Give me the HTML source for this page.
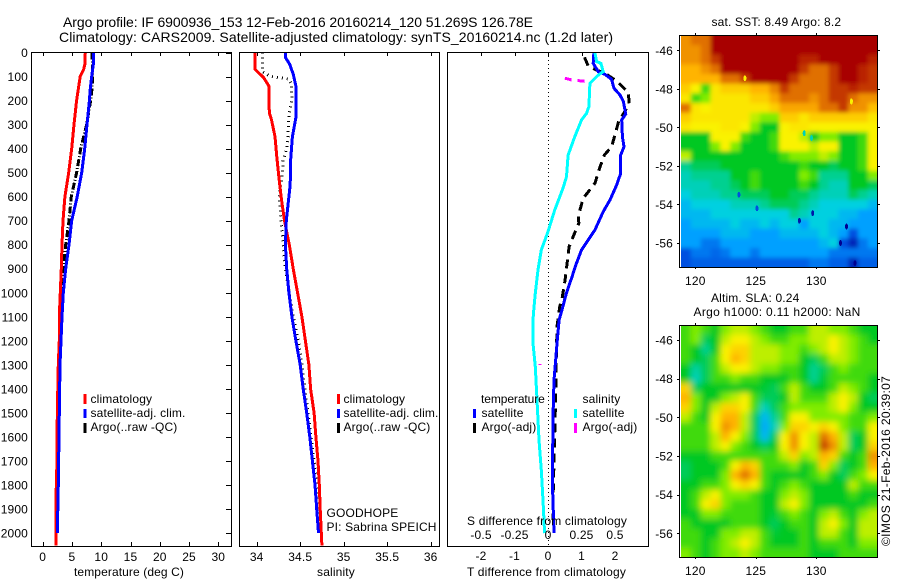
<!DOCTYPE html>
<html>
<head>
<meta charset="utf-8">
<title>Argo profile</title>
<style>
html,body{margin:0;padding:0;background:#fff;width:900px;height:580px;overflow:hidden}
svg{display:block}
text{font-family:"Liberation Sans",sans-serif;font-size:12px;fill:#000;letter-spacing:.15px}
.t{font-size:14px;letter-spacing:0}
.m{text-anchor:middle}
.e{text-anchor:end}
</style>
</head>
<body>
<svg id="fig" width="900" height="580" viewBox="0 0 900 580" xmlns="http://www.w3.org/2000/svg">
<defs>
<filter id="soft1" x="-5%" y="-5%" width="110%" height="110%"><feGaussianBlur stdDeviation="2"/></filter>
<filter id="soft2" x="-5%" y="-5%" width="110%" height="110%"><feGaussianBlur stdDeviation="3.2"/></filter>
<clipPath id="clipSst"><rect x="681" y="35" width="197" height="232"/></clipPath>
<clipPath id="clipSla"><rect x="681" y="325" width="197" height="232"/></clipPath>
</defs>
<rect width="900" height="580" fill="#fff"/>
<text class="t" x="63" y="27" textLength="470">Argo profile: IF 6900936_153 12-Feb-2016 20160214_120 51.269S 126.78E</text>
<text class="t" x="59" y="42" textLength="554">Climatology: CARS2009. Satellite-adjusted climatology: synTS_20160214.nc (1.2d later)</text>
<g id="layer"></g>

<g>
<rect x="83.5" y="394" width="3" height="10" fill="#f00"/>
<text x="90.5" y="403">climatology</text>
<rect x="83.5" y="409" width="3" height="9" fill="#00f"/>
<text x="90.5" y="417">satellite-adj. clim.</text>
<rect x="83.5" y="423" width="3" height="10" fill="#000"/>
<text x="90.5" y="431">Argo(..raw -QC)</text>
</g>
<g>
<rect x="337" y="394" width="3" height="10" fill="#f00"/>
<text x="343.5" y="403">climatology</text>
<rect x="337" y="409" width="3" height="9" fill="#00f"/>
<text x="343.5" y="417">satellite-adj. clim.</text>
<rect x="337" y="423" width="3" height="10" fill="#000"/>
<text x="343.5" y="431">Argo(..raw -QC)</text>
</g>
<text x="326.5" y="517">GOODHOPE</text>
<text x="326.5" y="531">PI: Sabrina SPEICH</text>
<g>
<text x="481" y="403" textLength="64">temperature</text>
<rect x="473" y="409" width="3" height="9" fill="#00f"/>
<text x="481.5" y="417">satellite</text>
<rect x="473" y="423" width="3" height="10" fill="#000"/>
<text x="481.5" y="431">Argo(-adj)</text>
<text x="582.5" y="403">salinity</text>
<rect x="574" y="409" width="3" height="9" fill="#0ff"/>
<text x="582.5" y="417">satellite</text>
<rect x="574" y="423" width="3" height="10" fill="#f0f"/>
<text x="582.5" y="431">Argo(-adj)</text>
</g>
<text x="74" y="576" textLength="110">temperature (deg C)</text>
<text class="m" x="336" y="576">salinity</text>
<text x="467" y="576" textLength="159">T difference from climatology</text>
<text x="467" y="525" textLength="160">S difference from climatology</text>
<text x="711.5" y="26">sat. SST: 8.49 Argo: 8.2</text>
<text x="711" y="302">Altim. SLA: 0.24</text>
<text x="693.5" y="316" textLength="167">Argo h1000: 0.11 h2000: NaN</text>
<text transform="translate(890,546) rotate(-90)" textLength="170">©IMOS 21-Feb-2016 20:39:07</text>
</svg>
<script>
// ---- profile data (depth in dbar, values in data units) ----
const depthTicks = [0,100,200,300,400,500,600,700,800,900,1000,1100,1200,1300,1400,1500,1600,1700,1800,1900,2000];
const tempTicks = [0,5,10,15,20,25,30];
const salTicks = [34,34.5,35,35.5,36];
const salTickLabels = ['34','34.5','35','35.5','36'];
const tDiffTicks = [-2,-1,0,1,2];
const sDiffTicks = [-0.5,-0.25,0,0.25,0.5];
const sDiffTickLabels = ['-0.5','-0.25','0','0.25','0.5'];

const climTempDepth = [0,50,70,100,200,300,400,500,600,700,800,900,1000,1100,1200,1300,1500,1700,1850,2053];
const climTemp = [7.28,7.2,7.0,6.4,5.8,5.35,4.95,4.45,3.8,3.47,3.3,3.18,3.0,2.84,2.84,2.67,2.5,2.45,2.27,2.27];
const satTempDepth = [0,50,100,150,200,300,400,500,600,700,800,900,1000,1100,1200,1300,1500,1800,2000];
const satTemp = [8.7,8.65,8.37,8.13,7.97,7.57,7.17,6.66,5.9,4.95,4.5,3.93,3.52,3.3,3.13,2.96,2.84,2.67,2.5];
const argoTempDepth = [0,100,150,200,300,400,500,600,700,800,900,1000,1200,1300,1800];
const argoTemp = [8.42,8.54,8.42,8.2,7.5,6.49,5.8,4.89,4.5,3.93,3.52,3.24,2.84,2.96,2.39];

const climSalDepth = [0,70,105,140,250,280,350,430,500,600,700,800,900,1000,1100,1200,1300,1400,1500,1600,1700,1800,1900,2053];
const climSal = [33.98,33.98,34.08,34.14,34.145,34.17,34.21,34.23,34.25,34.28,34.32,34.375,34.42,34.47,34.52,34.56,34.6,34.62,34.66,34.68,34.705,34.72,34.73,34.75];
const satSalDepth = [0,20,50,90,140,270,350,450,550,600,700,800,900,1000,1100,1200,1300,1400,1500,1600,1700,1800,1900,2000];
const satSal = [34.33,34.33,34.38,34.42,34.45,34.45,34.41,34.39,34.385,34.37,34.34,34.33,34.345,34.37,34.405,34.45,34.5,34.535,34.575,34.61,34.64,34.67,34.69,34.71];
const argoSalDepth = [0,80,100,110,130,200,260,350,400,450,500,600,700,800,900,1000,1100,1200,1300,1500,1700,1900,2000];
const argoSal = [34.065,34.065,34.16,34.36,34.4,34.405,34.37,34.36,34.345,34.305,34.295,34.26,34.28,34.305,34.33,34.375,34.42,34.48,34.52,34.59,34.66,34.72,34.73];

const satTDiffDepth = [0,45,80,91,112,149,177,204,256,281,350,392,427,503,551,614,662,739,822,877,940,1002,1065,1113,1211,1294,1363,1516,1793,2001];
const satTDiff = [1.37,1.35,1.5,1.7,1.9,1.97,2.15,2.25,2.32,2.2,2.22,2.27,2.17,2.17,2.05,1.85,1.65,1.4,1.0,0.85,0.7,0.55,0.43,0.33,0.27,0.22,0.18,0.15,0.13,0.18];
const argoTDiffDepth = [20,56,73,87,119,166,212,256,281,343,392,427,478,545,607,677,711,760,808,877,947,1016,1058,1141,1266,1474,1863,1946];
const argoTDiff = [1.09,1.2,1.45,1.7,2.05,2.4,2.42,2.25,2.12,2.0,1.9,1.68,1.55,1.4,1.05,0.91,0.92,0.77,0.63,0.57,0.51,0.43,0.35,0.27,0.25,0.22,0.15,0.15];
const satSDiffDepth = [0,38,45,80,94,128,225,253,281,350,427,517,565,656,746,822,905,1002,1065,1113,1211,1308,1446,1613,1738,1863,2001];
const satSDiff = [0.35,0.363,0.395,0.412,0.375,0.313,0.305,0.288,0.25,0.2,0.15,0.138,0.112,0.05,0,-0.05,-0.075,-0.095,-0.105,-0.112,-0.112,-0.095,-0.082,-0.067,-0.05,-0.037,-0.025];
const argoSDiffDepth = [107,114,117,121];
const argoSDiff = [0.125,0.175,0.225,0.295];
const argoSDiffDepth2 = [1298,1298];
const argoSDiff2 = [-0.07,-0.05];

// ---- map data (colour level per grid cell, north to south) ----
const sstMap = [
[8.5,9,9,10,10,10,10,10,10,10,10,10,10,10,10,10,10,10,10,10],
[8.5,8.5,9,10,10,10,10,10,10,10,10,10,10,10,10,10,10,10,10,10],
[8.5,8.5,9,9.5,10,10,10,10,10,10,10,10,9.7,9.7,10,10,10,10,10,9.7],
[8,8,8.5,9,10,10,10,10,10,10,10,10,9.5,9,9,9.5,10,10,9.7,9.5],
[8,8,8,8,9,9,9.5,10,10,10,10,9.5,9,9,9,9.5,10,10,9.7,9.5],
[7.6,7,5.5,7.2,7.6,7.6,7.6,8,8,8.7,9.5,9,9,9,9,9.5,9.5,9.7,9.5,9.5],
[7.2,5.5,6,7.2,7.2,7.2,7.2,7.6,7.6,8.2,9,9,9,8.5,9,9.5,9.5,9,8.5,8.5],
[9,7.2,7,7.2,7.2,7.2,7.2,7.2,7.2,7.6,8.2,8.2,8.2,8.2,9,9,9.5,8.5,8.5,7.8],
[7.6,7.2,7.2,7.2,7.2,7.2,7.2,6.5,6,6,7.6,7.6,7.2,7.6,7.6,7.6,7.6,7.6,7.6,7.2],
[7.2,7,7,7,7.2,7.2,7,6,5,5,7,7.2,7.2,7,7,7,7,7,7,7],
[5,5,5,7,7,7,5.5,5,5,5.5,7,7,6.5,5,6,6,5,5,5.5,7],
[5,5,5,6,7,6,5,5,5,5.5,7,7,7,6.5,7,7,5,5,5.5,7],
[6.5,5,5,5,5,5,5,5,5,5,5.5,6,6,6,6.5,6,5,5,5.5,7],
[4,4.5,4.5,4.5,5,5,5,5,5,5,5,5,5.5,5,5,4.5,5,5,5.5,7],
[3.5,4,4,4,4,5,5,5.5,5,5,5,5,6,5.5,4,4,4,5,5,6],
[3.5,3.5,3.5,4,4,4.5,5,5.5,5,5,5,5,5.5,5,4,3.5,3.5,5,5,4.5],
[3,3.5,3.5,3.5,4,4,4.5,4.5,4.5,5,5,4.5,4.5,4,3.5,3.5,3.5,4.5,4,3.5],
[2.5,3,3,3,3,3.5,3.5,3.5,4,4.5,4.5,4.5,4,3.5,3,3,3,3,3,2.5],
[2.5,2.5,2.5,3,3,3,3,3,3,3,3,4,3.5,3,3,3,2.5,2.5,2,2],
[2,2.5,2.5,2.5,2.5,3,2.5,2.5,3,2.5,3,3,2,3,3,2.5,2.5,2,2,2],
[2,2,2,2,2.5,2.5,2.5,2,2,2,2.5,2.5,2.5,2.5,3,2.5,2,1,2,2],
[2,2,1.5,1.5,2,2,2,2,2,2,2,2,2,2,2.5,3,1,0.5,1.5,2],
[1,1.5,1.5,1.3,1.5,2,2,1.5,2,2,2,2,2,2,2,1.5,1.5,1.5,1.5,1.5],
[1,1.2,1.2,1.2,1.2,1.2,1.2,1.2,1.2,1.2,1.2,1.2,1.2,1.5,1.5,1.2,1.2,0.5,1.2,1.2]
];
const sstSpotLon = [132,132.5,133.2,128.6,129.7,124.1,129,129.6,132.9,123.6,125.1];
const sstSpotLat = [-56,-55.15,-57.05,-54.85,-54.45,-47.45,-50.3,-50.55,-48.65,-53.5,-54.2];
const sstSpotLevel = [0,0,0,0.3,0.3,7,3.5,3.5,7,1,1];

const slaMap = [
[5.5,6,5.5,5,6,6.5,6.5,6,5.5,5,5,5.5,5.5,6.5,6.5,6,6,5.5,5,5],
[5.5,6,4.5,5,6.5,7,7,6.5,6,5.5,5.5,6,6,6.5,6.5,7,6.5,6,5.5,5],
[5.5,5,4,5,7,7.5,7.5,6.5,6.5,6.5,6,6,5.5,6,6.5,7,6.5,6,5.5,5.5],
[5.5,5,4.5,5.5,7,8,7.5,6.5,6.5,6.5,6,6,5,4.5,5.5,6.5,6.5,6,5.5,5.5],
[5,3.8,4.5,5.5,6.5,7,7,6.5,6,6,5.5,5.5,5,4,4.5,5.5,6,5.5,5.5,5.5],
[5,3.5,4.5,5.5,5.5,6,5.5,5.5,5,5,5,5.5,5,4,4.8,5.5,5.5,5.5,5.5,5],
[7.5,4.5,5,5,5,5,5,5,4.8,4.5,5.5,6.5,5.5,5,5,5.5,6.5,6,5.5,5],
[8,6,5,5,6,6.5,7,5.5,4.5,4.5,5,6.5,5.5,5.5,5.5,6.5,7,6.5,5,4.5],
[7.5,6,5,6.5,7.5,7.5,7,5.5,3.5,4.5,5.5,6,6,6,6,6.5,7,6,5,5],
[6.5,5.5,5,7,8,8,6.5,4.5,2.5,4,5.5,7,7,6,6,6,6,5.5,5.5,6],
[5.5,5.5,5.5,7,8.5,8,6.5,4.5,2.2,3.5,6,7.5,7.5,7,7.5,7,6,5.5,5.5,7],
[5.5,5.5,5.5,6.5,8,7,6,4.5,2.5,4.5,7,8.5,7,6.5,9,8,6.5,4.5,5,7],
[5.5,5.5,5.5,6.5,7,6,5.5,5,4.5,5,7,8.5,7,6.5,9.5,8.5,6.5,4.5,5,7.5],
[5,5,5,5.5,5.5,5.5,5.5,5.5,5.5,5.5,6.5,7.5,6,6.5,8,7.5,5.5,5,5.5,8.5],
[4.5,5,5,5,5.5,7,8,7.5,5.5,5.5,5.5,6,5,5.5,7.5,6,4.5,5,5.5,8],
[4.5,5,5,5,6,8,9,8,5.5,5,5,5,5,5.5,6,5,4.5,5.5,6,7],
[5,5,5.5,5.5,6,7,7.5,7,5.5,5,5.5,6,5.5,5,5,5,5,6.5,5.5,5.5],
[5,5.5,6.5,7,6,6,6,5.5,5,5,6,6.5,6,5,5,5,5,5.5,5,5],
[5,5.5,7,7.5,6,5.5,5.5,5.5,5,5,6.5,7,6,5,5,5,5,5,5,5.5],
[5,5,6,6,5.5,5.5,5.5,5.5,5,4.8,5.5,6,5.5,5,6,6.5,5.5,5,6,6.5],
[5.5,5,5,5,5,5.5,5.5,5.5,5,4.5,5,5.5,5.5,5,6.5,7,6,5,6.5,6.5],
[5.5,5.5,5,5,6,6,6.5,6.5,5.5,4.8,5,5,5.5,5,6.5,6.5,5.5,5,6.5,6.5],
[5.5,5.5,5,5.5,6,6.5,7,6.5,5.5,5,5,5,5.5,5,5.5,5.5,5.5,5,6,6],
[6,5.5,5,5.5,6,6,6.5,6,5.5,5.5,5.5,5.5,5.5,5,5,5,5.5,5.5,5.5,5.5]
];
const lonTicks = [120,125,130];
const latTicks = [-46,-48,-50,-52,-54,-56];

// ---- helpers ----
const NS = 'http://www.w3.org/2000/svg';
const layer = document.getElementById('layer');
function mk(tag, attrs, parent) {
  const el = document.createElementNS(NS, tag);
  for (const k in attrs) el.setAttribute(k, attrs[k]);
  (parent || layer).appendChild(el);
  return el;
}
function lin(d0, d1, p0, p1) { return v => p0 + (v - d0) * (p1 - p0) / (d1 - d0); }
const depthY = lin(0, 2000, 52.5, 533);
const tempX = lin(0, 30, 42.7, 218.3);
const salX = lin(34, 36, 256.7, 430.7);
const tDiffX = lin(-2, 2, 481, 615);
const sDiffX = lin(-0.5, 0.5, 481, 615);
const lonX = lin(120, 130, 695.3, 816.3);
const sstLatY = lin(-46, -56, 50.3, 243);
const slaLatY = lin(-46, -56, 340, 533.3);

function drawLine(xs, ds, xf, color, width, dash, name) {
  const pts = xs.map((v, i) => xf(v).toFixed(1) + ',' + depthY(ds[i]).toFixed(1));
  const el = mk('polyline', {points: pts.join(' '), fill: 'none', stroke: color, 'stroke-width': width, 'shape-rendering': 'crispEdges'});
  if (dash) el.setAttribute('stroke-dasharray', dash);
  
  
}
function hline(x1, y1, x2, y2, name) {
  const el = mk('line', {x1: x1, y1: y1, x2: x2, y2: y2, stroke: '#000', 'stroke-width': 1, 'shape-rendering': 'crispEdges'});
  
  
  return el;
}
function label(x, y, str, cls, name) {
  const el = mk('text', {x: x, y: y, 'class': cls});
  el.textContent = str;
  
  
  return el;
}
function frame(x0, x1, y0, y1, name) {
  const el = mk('rect', {x: x0, y: y0, width: x1 - x0, height: y1 - y0, fill: 'none', stroke: '#000', 'stroke-width': 1, 'shape-rendering': 'crispEdges'});
  
  
}

const TOP = 52, BOTTOM = 546;

// colour levels 0..10
const levelColors = [[0,0,144],[0,80,224],[0,160,255],[0,208,224],[0,208,144],[0,200,32],[128,236,0],[250,242,0],[255,180,0],[224,112,0],[168,0,0]];
function levelColor(v) {
  const i = Math.max(0, Math.min(9, Math.floor(v)));
  const f = Math.max(0, Math.min(1, v - i));
  const a = levelColors[i], b = levelColors[i + 1];
  return 'rgb(' + [0, 1, 2].map(k => Math.round(a[k] + (b[k] - a[k]) * f)).join(',') + ')';
}

// ---- temperature panel ----
drawLine(argoTemp, argoTempDepth, tempX, '#000', 3, '7 2 1 2', 'argo-temperature-line');
drawLine(climTemp, climTempDepth, tempX, '#f00', 3, null, 'climatology-temperature-line');
drawLine(satTemp, satTempDepth, tempX, '#00f', 3, null, 'satellite-temperature-line');
frame(31.5, 231.5, 52.5, 546.5, 'temperature-plot-frame');
for (const d of depthTicks) {
  hline(226, Math.round(depthY(d)) + .5, 231, Math.round(depthY(d)) + .5, 'depth-tick');
  label(28, depthY(d) + 4.5, String(d), 'e', 'depth-tick-label');
}
for (const t of tempTicks) {
  const x = Math.round(tempX(t)) + .5;
  hline(x, TOP, x, TOP + 4, 'temperature-top-tick');
  hline(x, BOTTOM - 4, x, BOTTOM, 'temperature-bottom-tick');
  label(tempX(t), 561, String(t), 'm', 'temperature-tick-label');
}

// ---- salinity panel ----
drawLine(argoSal, argoSalDepth, salX, '#000', 3, '1 4', 'argo-salinity-line');
drawLine(climSal, climSalDepth, salX, '#f00', 3, null, 'climatology-salinity-line');
drawLine(satSal, satSalDepth, salX, '#00f', 3, null, 'satellite-salinity-line');
frame(239.5, 439.5, 52.5, 546.5, 'salinity-plot-frame');
salTicks.forEach((s, i) => {
  const x = Math.round(salX(s)) + .5;
  hline(x, TOP, x, TOP + 4, 'salinity-top-tick');
  hline(x, BOTTOM - 4, x, BOTTOM, 'salinity-bottom-tick');
  label(salX(s), 561, salTickLabels[i], 'm', 'salinity-tick-label');
});

// ---- difference panel ----
const zero = mk('line', {x1: Math.round(tDiffX(0)) + .5, y1: TOP, x2: Math.round(tDiffX(0)) + .5, y2: BOTTOM, stroke: '#000', 'stroke-width': 1, 'stroke-dasharray': '1 3', 'shape-rendering': 'crispEdges'});


drawLine(argoTDiff, argoTDiffDepth, tDiffX, '#000', 3, '9 6', 'argo-t-difference-line');
drawLine(satTDiff, satTDiffDepth, tDiffX, '#00f', 3, null, 'satellite-t-difference-line');
drawLine(satSDiff, satSDiffDepth, sDiffX, '#0ff', 3, null, 'satellite-s-difference-line');
drawLine(argoSDiff, argoSDiffDepth, sDiffX, '#f0f', 3, '7 6', 'argo-s-difference-line');
drawLine(argoSDiff2, argoSDiffDepth2, sDiffX, '#f0f', 1, null, 'argo-s-difference-line');
frame(447.5, 648.5, 52.5, 546.5, 'difference-plot-frame');
tDiffTicks.forEach(t => {
  const x = Math.round(tDiffX(t)) + .5;
  hline(x, TOP, x, TOP + 4, 'difference-top-tick');
  label(tDiffX(t), 560, String(t), 'm', 't-difference-tick-label');
});
sDiffTicks.forEach((s, i) => {
  label(sDiffX(s), 539, sDiffTickLabels[i], 'm', 's-difference-tick-label');
});

// ---- maps ----
function drawMap(grid, latY, clipId, filterId, top, bottom, name, spotLon, spotLat, spotLevel) {
  const clip = mk('g', {'clip-path': 'url(#' + clipId + ')'});
  
  
  const g = mk('g', {filter: 'url(#' + filterId + ')'}, clip);
  const cols = grid[0].length, rows = grid.length;
  const lonAt = i => 118.82 + i * (16.26 / cols);
  const latAt = j => -45.22 - j * (12.04 / rows);
  for (let j = 0; j < rows; j++) {
    for (let i = 0; i < cols; i++) {
      let x0 = lonX(lonAt(i)), x1 = lonX(lonAt(i + 1)), y0 = latY(latAt(j)), y1 = latY(latAt(j + 1));
      if (i === 0) x0 -= 14;
      if (i === cols - 1) x1 += 14;
      if (j === 0) y0 -= 14;
      if (j === rows - 1) y1 += 14;
      const cell = mk('rect', {x: x0.toFixed(2), y: y0.toFixed(2), width: (x1 - x0 + .4).toFixed(2), height: (y1 - y0 + .4).toFixed(2), fill: levelColor(grid[j][i])}, g);
      
      
    }
  }
  if (spotLon) {
    spotLon.forEach((lon, k) => {
      const spot = mk('ellipse', {cx: lonX(lon).toFixed(1), cy: latY(spotLat[k]).toFixed(1), rx: 1.5, ry: 3, fill: levelColor(spotLevel[k]), 'shape-rendering': 'crispEdges'}, clip);
      
      
    });
  }
  frame(679.5, 877.5, top + .5, bottom + .5, name + '-frame');
  for (const lon of lonTicks) {
    const x = Math.round(lonX(lon)) + .5;
    hline(x, top - 2, x, top, name + '-top-tick');
    hline(x, bottom, x, bottom + 2, name + '-bottom-tick');
    label(lonX(lon), bottom + 18, String(lon), 'm', name + '-lon-label');
  }
  for (const lat of latTicks) {
    const y = Math.round(latY(lat)) + .5;
    hline(677, y, 680, y, name + '-left-tick');
    hline(877, y, 880, y, name + '-right-tick');
    label(673, latY(lat) + 4.5, String(lat), 'e', name + '-lat-label');
  }
}
drawMap(sstMap, sstLatY, 'clipSst', 'soft1', 35, 267, 'sst-map', sstSpotLon, sstSpotLat, sstSpotLevel);
drawMap(slaMap, slaLatY, 'clipSla', 'soft2', 325, 557, 'sla-map');
</script>
</body>
</html>
